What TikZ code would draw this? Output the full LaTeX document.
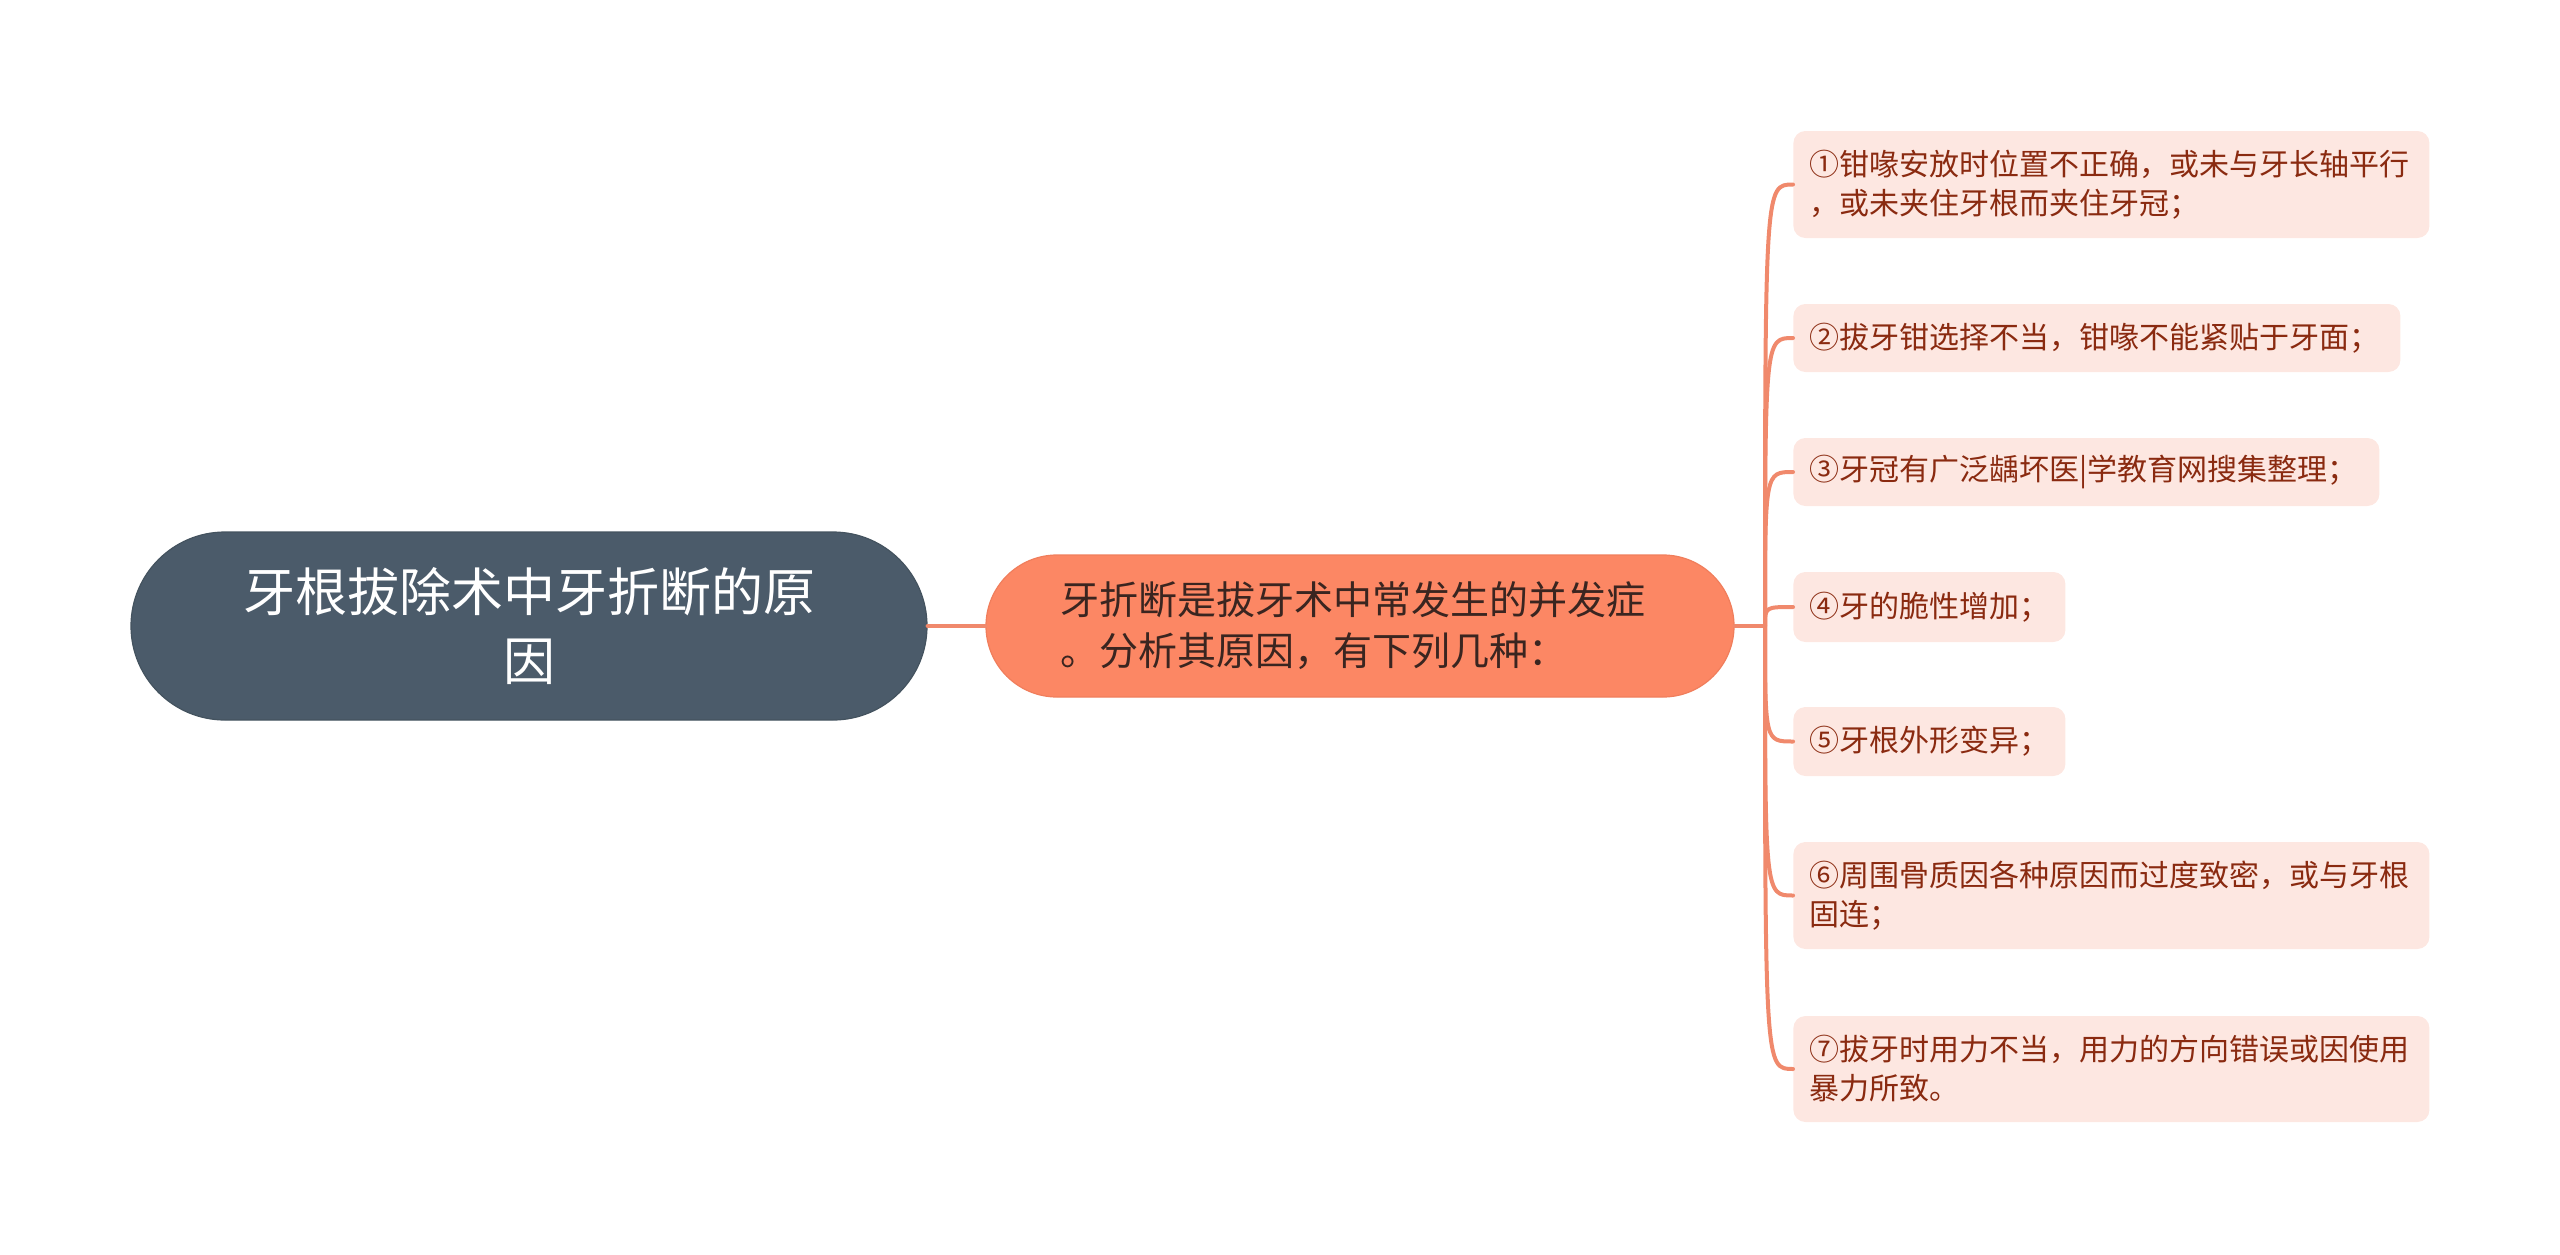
\documentclass[tikz,border=0pt]{standalone}
\usepackage{fontspec}
\setmainfont{Noto Sans CJK SC}
\definecolor{rootfill}{HTML}{4B5B6A}
\definecolor{rootline}{HTML}{44535F}
\definecolor{midfill}{HTML}{FC8764}
\definecolor{midline}{HTML}{F07E5C}
\definecolor{midtext}{HTML}{3A2520}
\definecolor{leaffill}{HTML}{FDE7E1}
\definecolor{leaftext}{HTML}{8A2A10}
\definecolor{conn}{HTML}{F0896C}
\begin{document}
\begin{tikzpicture}[x=0.5pt,y=-0.5pt,
  rootbox/.style={draw=rootline,line width=0.6pt,fill=rootfill,rounded corners=47pt,
    minimum width=398pt,minimum height=94pt,align=center,text=white,
    font=\fontsize{26pt}{34.5pt}\selectfont},
  midbox/.style={draw=midline,line width=0.6pt,fill=midfill,rounded corners=35.5pt,
    minimum width=374pt,minimum height=71pt,align=left,text width=300pt,text=midtext,
    font=\fontsize{19.5pt}{25.5pt}\selectfont},
  leafbox/.style={fill=leaffill,rounded corners=6pt,anchor=west,inner xsep=8pt,inner ysep=0pt,
    align=left,text=leaftext,font=\fontsize{15pt}{19.5pt}\selectfont},
  link/.style={draw=conn,line width=2pt,line cap=round}]
\useasboundingbox (0,0) rectangle (2560,1254);
\node[rootbox] (root) at (529,626) {牙根拔除术中牙折断的原\\因};
\node[midbox] (mid) at (1360,626) {牙折断是拔牙术中常发生的并发症\\。分析其原因，有下列几种：};
\coordinate (hub) at (1765,626);
\node[leafbox,text width=302pt,minimum height=53.5pt] (l1) at (1793,184.5) {①钳喙安放时位置不正确，或未与牙长轴平行\\，或未夹住牙根而夹住牙冠；};
\node[leafbox,text width=287.5pt,minimum height=34pt] (l2) at (1793,338) {②拔牙钳选择不当，钳喙不能紧贴于牙面；};
\node[leafbox,text width=277pt,minimum height=34pt] (l3) at (1793,472) {③牙冠有广泛龋坏医|学教育网搜集整理；};
\node[leafbox,text width=120pt,minimum height=35pt] (l4) at (1793,607) {④牙的脆性增加；};
\node[leafbox,text width=120pt,minimum height=34.5pt] (l5) at (1793,741.5) {⑤牙根外形变异；};
\node[leafbox,text width=302pt,minimum height=53.5pt] (l6) at (1793,895.5) {⑥周围骨质因各种原因而过度致密，或与牙根\\固连；};
\node[leafbox,text width=302pt,minimum height=53pt] (l7) at (1793,1069) {⑦拔牙时用力不当，用力的方向错误或因使用\\暴力所致。};
\draw[link] (root.east) -- (mid.west);
\draw[link] (mid.east) -- (hub);
\foreach \n/\y in {l1/184.5,l2/338,l3/472,l4/607,l5/741.5,l6/895.5,l7/1069}{
  \draw[link] (hub) .. controls (1765,\y) and (1765,\y) .. (\n.west);
}
\end{tikzpicture}
\end{document}
